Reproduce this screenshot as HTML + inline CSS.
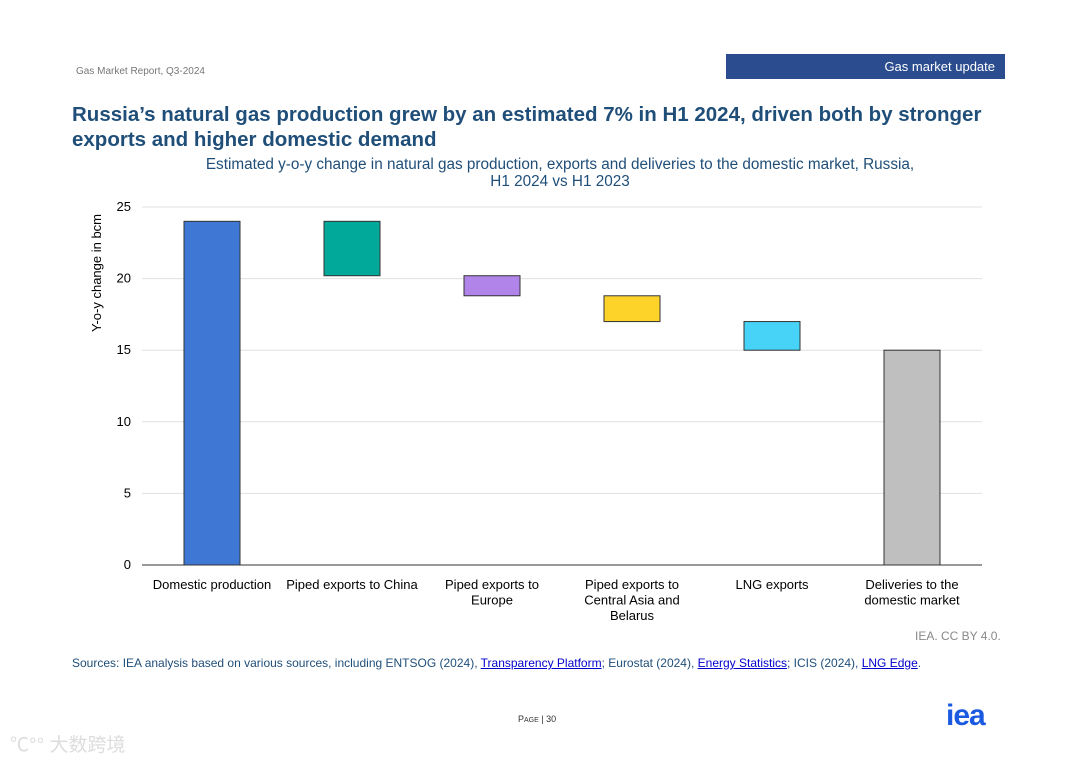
<!DOCTYPE html>
<html><head><meta charset="utf-8"><style>
body{margin:0;width:1080px;height:763px;background:#fff;font-family:"Liberation Sans",sans-serif;position:relative;overflow:hidden}
.a{position:absolute;white-space:nowrap}
</style></head><body>
<div class="a" style="left:76px;top:66px;font-size:10px;color:#777">Gas Market Report, Q3-2024</div>
<div class="a" style="left:726px;top:54px;width:279px;height:25px;background:#2b4d8f;color:#fff;font-size:13px;text-align:right;line-height:25px;box-sizing:border-box;padding-right:10px">Gas market update</div>
<div class="a" style="left:72px;top:102px;font-size:20.5px;font-weight:bold;color:#1f4e79;line-height:25px">Russia’s natural gas production grew by an estimated 7% in H1 2024, driven both by stronger<br>exports and higher domestic demand</div>
<div class="a" style="left:140px;top:156px;width:840px;text-align:center;font-size:15.3px;color:#1f4e79;line-height:17px">Estimated y-o-y change in natural gas production, exports and deliveries to the domestic market, Russia,<br>H1 2024 vs H1 2023</div>
<svg class="a" style="left:0;top:0" width="1080" height="763">
<g id="grid"></g><g id="bars"></g><g id="labels"></g>
<text transform="translate(101,273) rotate(-90)" text-anchor="middle" font-size="13" fill="#000">Y-o-y change in bcm</text>
</svg>
<div class="a" style="left:915px;top:629px;font-size:12px;color:#888">IEA. CC BY 4.0.</div>
<div class="a" style="left:72px;top:656px;font-size:12px;color:#1f4e79">Sources: IEA analysis based on various sources, including ENTSOG (2024), <u style="color:#00c">Transparency Platform</u>; Eurostat (2024), <u style="color:#00c">Energy Statistics</u>; ICIS (2024), <u style="color:#00c">LNG Edge</u>.</div>
<div class="a" style="left:518px;top:714px;font-size:9px;color:#333">P<span style="font-size:7px">AGE</span> | 30</div>
<div class="a" style="left:946px;top:699px;font-size:30px;font-weight:bold;color:#1a5ae0;letter-spacing:-1px">iea</div>
<div class="a" style="left:10px;top:730px;font-size:19px;color:#ddd;font-family:'Liberation Sans','Noto Sans CJK SC',sans-serif">℃°° 大数跨境</div>
<script>
const categories=["Domestic production","Piped exports to China","Piped exports to Europe","Piped exports to Central Asia and Belarus","LNG exports","Deliveries to the domestic market"];
const labelLines=[["Domestic production"],["Piped exports to China"],["Piped exports to","Europe"],["Piped exports to","Central Asia and","Belarus"],["LNG exports"],["Deliveries to the","domestic market"]];
const barTops=[24.0,24.0,20.2,18.8,17.0,15.0];
const barBottoms=[0,20.2,18.8,17.0,15.0,0];
const colors=["#3f78d4","#00a99a","#b084e8","#fdd32a","#47d2f7","#bfbfbf"];
const ticks=[0,5,10,15,20,25];
const ns="http://www.w3.org/2000/svg";
const x0=142,x1=982,y0=565,ymax=25,ppu=(565-207)/25;
const y=v=>y0-v*ppu;
const bw=(x1-x0)/categories.length;
const xc=i=>x0+bw*(i+0.5);
function mk(t,a,p){const e=document.createElementNS(ns,t);for(const k in a)e.setAttribute(k,a[k]);p.appendChild(e);return e;}
const G=document.getElementById('grid'),B=document.getElementById('bars'),L=document.getElementById('labels');
ticks.forEach(t=>{
 const l=mk('line',{x1:x0,x2:x1,y1:y(t),y2:y(t),stroke:t===0?'#333':'#e0e0e0','stroke-width':1},G);
 
 
 const tx=mk('text',{x:131,y:y(t)+4,'text-anchor':'end','font-size':13,fill:'#000'},G);tx.textContent=t;
 
 
});
categories.forEach((c,i)=>{
 const r=mk('rect',{x:xc(i)-28,y:y(barTops[i]),width:56,height:y(barBottoms[i])-y(barTops[i]),fill:colors[i],stroke:'#333','stroke-width':1},B);
 
 
 const t=mk('text',{x:xc(i),y:589,'text-anchor':'middle','font-size':13,fill:'#000'},L);
 
 
 labelLines[i].forEach((s,j)=>{const sp=mk('tspan',{x:xc(i),dy:j?15.5:0},t);sp.textContent=s;});
});
</script>
</body></html>
